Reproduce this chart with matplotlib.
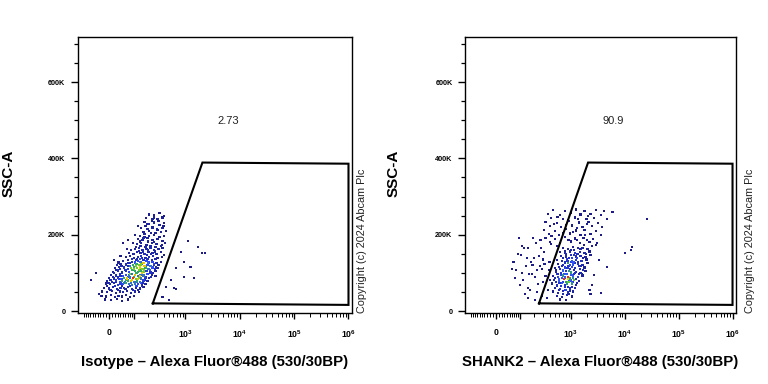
import numpy as np
import matplotlib
matplotlib.use('Agg')
import matplotlib.pyplot as plt
from matplotlib.colors import LinearSegmentedColormap
from matplotlib.ticker import FixedLocator, FixedFormatter

plt.rcParams['font.family'] = ['Liberation Sans', 'DejaVu Sans']
plt.rcParams['mathtext.fontset'] = 'custom'
plt.rcParams['mathtext.rm'] = 'Liberation Sans'
plt.rcParams['mathtext.bf'] = 'Liberation Sans:bold'

# ---------------- data ----------------
X_LABELS = ['Isotype \u2013 Alexa Fluor\u00ae488 (530/30BP)',
            'SHANK2 \u2013 Alexa Fluor\u00ae488 (530/30BP)']
Y_LABEL = 'SSC-A'
GATE_STATS = ['2.73', '90.9']
COPYRIGHT = 'Copyright (c) 2024 Abcam Plc'

# gate polygon (fluorescence, SSC-A in K)
GATE_X = [248, 2075, 1.0e6, 1.0e6, 248]
GATE_Y = [20, 389, 386, 16, 20]

Y_TICKS = [0, 200, 400, 600]
Y_TICK_LABELS = ['0', '200K', '400K', '600K']
Y_MINOR = [50, 100, 150, 250, 300, 350, 450, 500, 550, 650, 700]
X_MAJOR = [0, 100, 1e3, 1e4, 1e5, 1e6]
X_MAJOR_LABELS = ['0', '', r'$\mathbf{10^{3}}$', r'$\mathbf{10^{4}}$',
                  r'$\mathbf{10^{5}}$', r'$\mathbf{10^{6}}$']

# Isotype events (fluorescence, SSC-A in K)
ISO_TOP = [(213,253),(266,251),(332,256),(380,245),(305,240),(245,240),(408,248),(185,243),
           (170,233),(213,227),(266,232),(332,225),(408,230),(147,217),(195,214),(245,219),
           (305,212),(380,217),(445,209),(162,206),(213,209),(280,204),(350,206),(123,222),
           (235,235),(318,236),(178,222),(395,222)]
ISO_UPPER = [(105,199),(135,196),(170,201),(213,196),(266,199),(332,193),(408,196),
             (123,188),(155,186),(195,191),(245,186),(305,188),(380,183),
             (95,178),(117,175),(147,178),(187,173),(235,178),(292,175),(365,173),(426,178),
             (111,167),(141,170),(178,167),(224,170),(280,167),(350,170),
             (51,178),(71,186),(162,191),
             (67,162),(85,159),(105,162),(129,165),(155,159),(187,162),(224,165),(266,159),(318,162),(380,165),
             (75,152),(95,149),(117,154),(141,152),(170,149),(204,154),(245,152),(292,149),(350,154),
             (63,141),(80,144),(100,139),(123,141),(147,144),(178,139),(213,141),(255,144),(305,139),(365,141),
             (71,133),(90,136),(111,133),(135,136),(162,133),(195,136),(235,133),(280,136),(16,133),(40,144),(408,146)]
ISO_MID = [(33,127),(51,130),(71,126),(90,129),(105,127),(123,131),(141,128),(162,125),(187,130),(213,127),(245,129),(292,126),(350,128),
           (26,121),(44,118),(63,122),(80,119),(95,121),(111,117),(129,120),(147,122),(170,118),(195,121),(224,119),(266,122),(318,120),
           (19,113),(37,110),(55,114),(71,111),(85,113),(100,109),(117,112),(135,114),(155,110),(178,113),(204,111),(245,114),(305,112),
           (13,103),(30,106),(47,102),(63,105),(75,103),(90,107),(105,104),(123,102),(141,106),(162,103),(187,105),(224,101),(280,104),
           (6,95),(23,93),(37,96),(51,92),(63,95),(75,93),(90,96),(105,94),(123,92),(141,95),(162,93),(195,96),(235,94),(280,92),
           (0,87),(16,85),(30,88),(44,84),(55,87),(67,85),(80,88),(95,86),(111,84),(129,87),(147,85),(178,88),(213,86),
           (-6,79),(10,77),(23,80),(37,76),(47,79),(59,77),(71,80),(85,78),(100,76),(117,79),(135,77),(162,80),(195,78),
           (-10,72),(3,70),(16,73),(30,69),(40,72),(51,70),(63,73),(75,71),(90,69),(105,72),(123,70),(147,73),(178,71)]
ISO_LOW = [(-16,61),(0,59),(13,62),(26,58),(40,61),(55,60),(71,62),(90,58),(111,61),(135,59),(162,62),
           (-23,51),(-6,49),(10,52),(23,48),(37,51),(51,49),(67,52),(85,48),(105,51),(129,49),
           (-26,40),(-10,38),(6,41),(19,37),(33,40),(47,38),(63,41),(80,37),(100,40),
           (-13,30),(6,28),(26,31),(47,27),(71,30)]
ISO_FILL = [(40,124),(80,125),(115,123),(150,124),(200,125),(260,123),
            (35,116),(70,117),(103,115),(138,116),(185,117),(235,115),(290,116),
            (25,108),(60,107),(95,108),(128,107),(165,108),(215,107),(270,109),
            (18,99),(45,100),(80,98),(115,99),(150,100),(195,98),(250,99),
            (12,90),(40,91),(70,89),(100,90),(135,91),(175,89),(225,90),
            (5,82),(35,83),(62,81),(92,82),(125,83),(170,81),
            (-2,74),(25,75),(55,73),(85,74),(115,75),(155,74),
            (-8,66),(20,65),(45,67),(80,66),(115,65),(150,67),
            (5,56),(30,55),(60,57),(95,55),(125,56),
            (120,137),(150,140),(190,146),(230,150),(100,150),(160,156),(200,160),(270,156),(130,158),
            (140,182),(200,182),(260,180),(170,195),(230,205),(300,215),(190,228),(260,245)]
ISO_OUTLIERS = [(-67,81),(-48,99),(-35,45),
                (840,154),(950,128),(1250,115),(1445,86),(623,60),(445,63),(550,81),(2030,152),
                (950,89),(670,112),(1130,183),(1710,167),(2300,152),(670,58),(380,37),(504,29)]

# SHANK2 events (fluorescence, SSC-A in K)
SH_CORE = [(710,166),(880,163),(1080,167),(1330,164),(1640,166),(2020,163),
           (623,155),(770,152),(950,156),(1170,153),(1445,155),(1785,152),(2200,156),
           (650,145),(800,142),(990,146),(1220,143),(1500,145),(1860,142),(2300,146),
           (550,134),(670,131),(840,135),(1030,132),(1250,134),(1570,131),(1940,135),
           (575,124),(710,121),(880,125),(1080,122),(1330,124),(1640,121),(2020,125),
           (504,113),(623,110),(770,114),(950,111),(1170,113),(1445,110),(1785,114),
           (525,103),(650,100),(800,104),(990,101),(1220,103),(1500,100),(1860,104),
           (465,92),(575,89),(710,93),(880,90),(1080,92),(1330,89),(1640,93),
           (485,82),(600,79),(740,83),(915,80),(1130,82),(1390,79),
           (445,72),(550,69),(670,73),(840,70),(1030,72),(1250,69),
           (504,61),(623,58),(770,62),(950,59),(1170,61),
           (465,51),(575,48),(710,52),(880,49),(1080,51),
           (550,40),(670,37),(840,41),(1030,38),
           (623,30),(800,28),
           (900,118),(1000,128),(1120,108),(780,98),(1300,138),(960,85),(1150,96),(860,132),
           (1060,140),(720,106),(1400,118),(1200,125),(820,75),(990,160),(1280,150)]
SH_FILL = [(520,108),(600,116),(690,119),(760,127),(860,113),(940,120),(1040,116),(1110,129),(1350,128),(1550,118),(1700,108),
           (560,96),(640,94),(730,98),(830,96),(920,104),(1020,95),(1180,100),(1400,96),(1600,98),
           (500,86),(590,84),(680,86),(780,88),(880,85),(980,80),(1090,87),(1250,84),
           (520,76),(610,74),(710,77),(900,76),(1100,76),(1300,74),
           (540,65),(650,65),(760,67),(880,64),(1050,64),
           (600,54),(790,55),(950,53),(700,45),(900,44),
           (700,138),(820,148),(920,139),(1130,147),(1350,149),(1700,138),(1150,160),(1500,162),(760,158),(1900,150),
           (560,247),(880,238),(1350,240),(2100,248),(480,227),(820,226),(1300,218),(2000,228),(700,205),
           (1100,207),(1800,199),(430,196),(900,186),(1300,185),(2000,187),(550,170),(1750,172),(2500,170),
           (90,150),(110,170),(140,140),(185,120),(210,90),(280,110),(110,100),(150,60),(230,50),(300,135),(270,165),(60,110)]
SH_UPPER = [(465,265),(770,262),(1250,266),(1785,263),(2950,265),(4130,262),
            (365,255),(623,252),(990,256),(1500,253),(2300,255),(3550,252),
            (426,244),(710,241),(1170,245),(1940,242),(2710,244),(4600,241),
            (332,234),(550,231),(915,235),(1390,232),(2110,234),(3200,231),
            (408,223),(650,220),(1030,224),(1640,221),(2490,223),(3790,220),
            (305,213),(504,210),(800,214),(1250,211),(1785,213),(2950,210),
            (380,202),(600,199),(950,203),(1500,200),(2300,202),(3550,199),
            (332,192),(504,189),(770,193),(1170,190),(1710,192),(2600,189),
            (408,181),(623,178),(990,182),(1445,179),(2200,181),(3070,178)]
SH_LEFT = [(67,128),(80,107),(95,191),(105,146),(117,81),(135,118),(147,165),(162,55),
           (178,97),(195,139),(213,178),(235,71),(255,118),(280,39),(305,154),(332,91),
           (365,55),(395,128),(426,175),(100,68),(75,86),(123,165),(170,128),(224,107),
           (292,76),(350,34),(129,44),(187,191),(266,186),(408,81),(155,97),(204,29),
           (245,144),(318,123),(380,107),(147,34)]
SH_OUTLIERS = [(26000,240),(13700,167),(12900,159),(10000,152),(5900,259),(4600,115),
               (3550,47),(2950,172),(3340,133),(2710,94),(2490,68),(2300,44),(2200,55)]

PANELS = [
    dict(points=ISO_TOP + ISO_UPPER + ISO_MID + ISO_LOW + ISO_FILL + ISO_OUTLIERS,
         xlabel=X_LABELS[0], stat=GATE_STATS[0],
         rect=[78/768, 1-313.3/384, 274/768, 276.3/384], ylab_x=-0.255, copy_x=1.035),
    dict(points=SH_CORE + SH_FILL + SH_UPPER + SH_LEFT + SH_OUTLIERS,
         xlabel=X_LABELS[1], stat=GATE_STATS[1],
         rect=[465/768, 1-313.3/384, 271/768, 276.3/384], ylab_x=-0.262, copy_x=1.051),
]

# ---------------- scale ----------------
A0 = 80.0
def fwd(x):
    return np.arcsinh(np.asarray(x, dtype=float) / A0)
def inv(s):
    return A0 * np.sinh(np.asarray(s, dtype=float))

X_MINOR = ([-v for v in range(10, 101, 10)] + list(range(10, 91, 10)) +
           [m * 10**e for e in range(2, 6) for m in range(2, 10)])

cmap = LinearSegmentedColormap.from_list('flow', [
    (0.0, '#1c1c86'), (0.45, '#2030c0'), (0.62, '#2f4cff'),
    (0.78, '#2fc040'), (0.9, '#e6e000'), (1.0, '#ff2a00')])

fig = plt.figure(figsize=(7.68, 3.84), dpi=100)
fig.patch.set_facecolor('white')

for p in PANELS:
    ax = fig.add_axes(p['rect'])
    ax.set_xscale('function', functions=(fwd, inv))
    ax.set_xlim(-138, 1.16e6)
    ax.set_ylim(-6, 718)

    pts = np.array(p['points'], dtype=float)
    xs, ys = pts[:, 0], pts[:, 1]
    # local density in display-like units for pseudocolour
    u = fwd(xs) * 23.6
    v = ys / 2.62
    d2 = (u[:, None] - u[None, :])**2 + (v[:, None] - v[None, :])**2
    cnt = (d2 < 6.0**2).sum(axis=1).astype(float)
    dens = (cnt - cnt.min()) / (cnt.max() - cnt.min())
    order = np.argsort(dens)
    ax.scatter(xs[order], ys[order], c=dens[order] ** 1.8, cmap=cmap, vmin=0, vmax=1,
               s=2.4, marker='s', linewidths=0, zorder=2)

    ax.plot(GATE_X, GATE_Y, color='black', lw=1.5, zorder=3, solid_joinstyle='miter')

    ax.text(0.548, 0.697, p['stat'], transform=ax.transAxes, ha='center', va='center',
            fontsize=8, color='#222222')
    ax.text(p['copy_x'], 0.0, COPYRIGHT, transform=ax.transAxes, rotation=90,
            ha='center', va='bottom', fontsize=7.8, color='#222222')

    for s in ax.spines.values():
        s.set_linewidth(1.0)
        s.set_color('black')

    ax.yaxis.set_major_locator(FixedLocator(Y_TICKS))
    ax.yaxis.set_major_formatter(FixedFormatter(Y_TICK_LABELS))
    ax.yaxis.set_minor_locator(FixedLocator(Y_MINOR))
    ax.xaxis.set_major_locator(FixedLocator(X_MAJOR))
    ax.xaxis.set_major_formatter(FixedFormatter(X_MAJOR_LABELS))
    ax.xaxis.set_minor_locator(FixedLocator(X_MINOR))
    ax.xaxis.set_minor_formatter(FixedFormatter([''] * len(X_MINOR)))

    ax.tick_params(axis='y', which='major', direction='out', length=5, width=1.0,
                   labelsize=5.2, pad=4)
    ax.tick_params(axis='y', which='minor', direction='out', length=3, width=0.9)
    ax.tick_params(axis='x', which='major', direction='out', length=4.5, width=1.0,
                   labelsize=6.3, pad=6)
    ax.tick_params(axis='x', which='minor', direction='out', length=2.6, width=0.7)
    for lab in ax.get_yticklabels():
        lab.set_fontweight('bold')
    for lab in ax.get_xticklabels():
        lab.set_fontweight('bold')

    ax.set_xlabel(p['xlabel'], fontsize=10.8, fontweight='bold')
    ax.xaxis.set_label_coords(0.5, -0.176)
    ax.xaxis.label.set_va('center')
    ax.set_ylabel(Y_LABEL, fontsize=11, fontweight='bold')
    ax.yaxis.set_label_coords(p['ylab_x'], 0.508)
    ax.yaxis.label.set_va('center')

fig.savefig('out.png', dpi=100, facecolor='white')
